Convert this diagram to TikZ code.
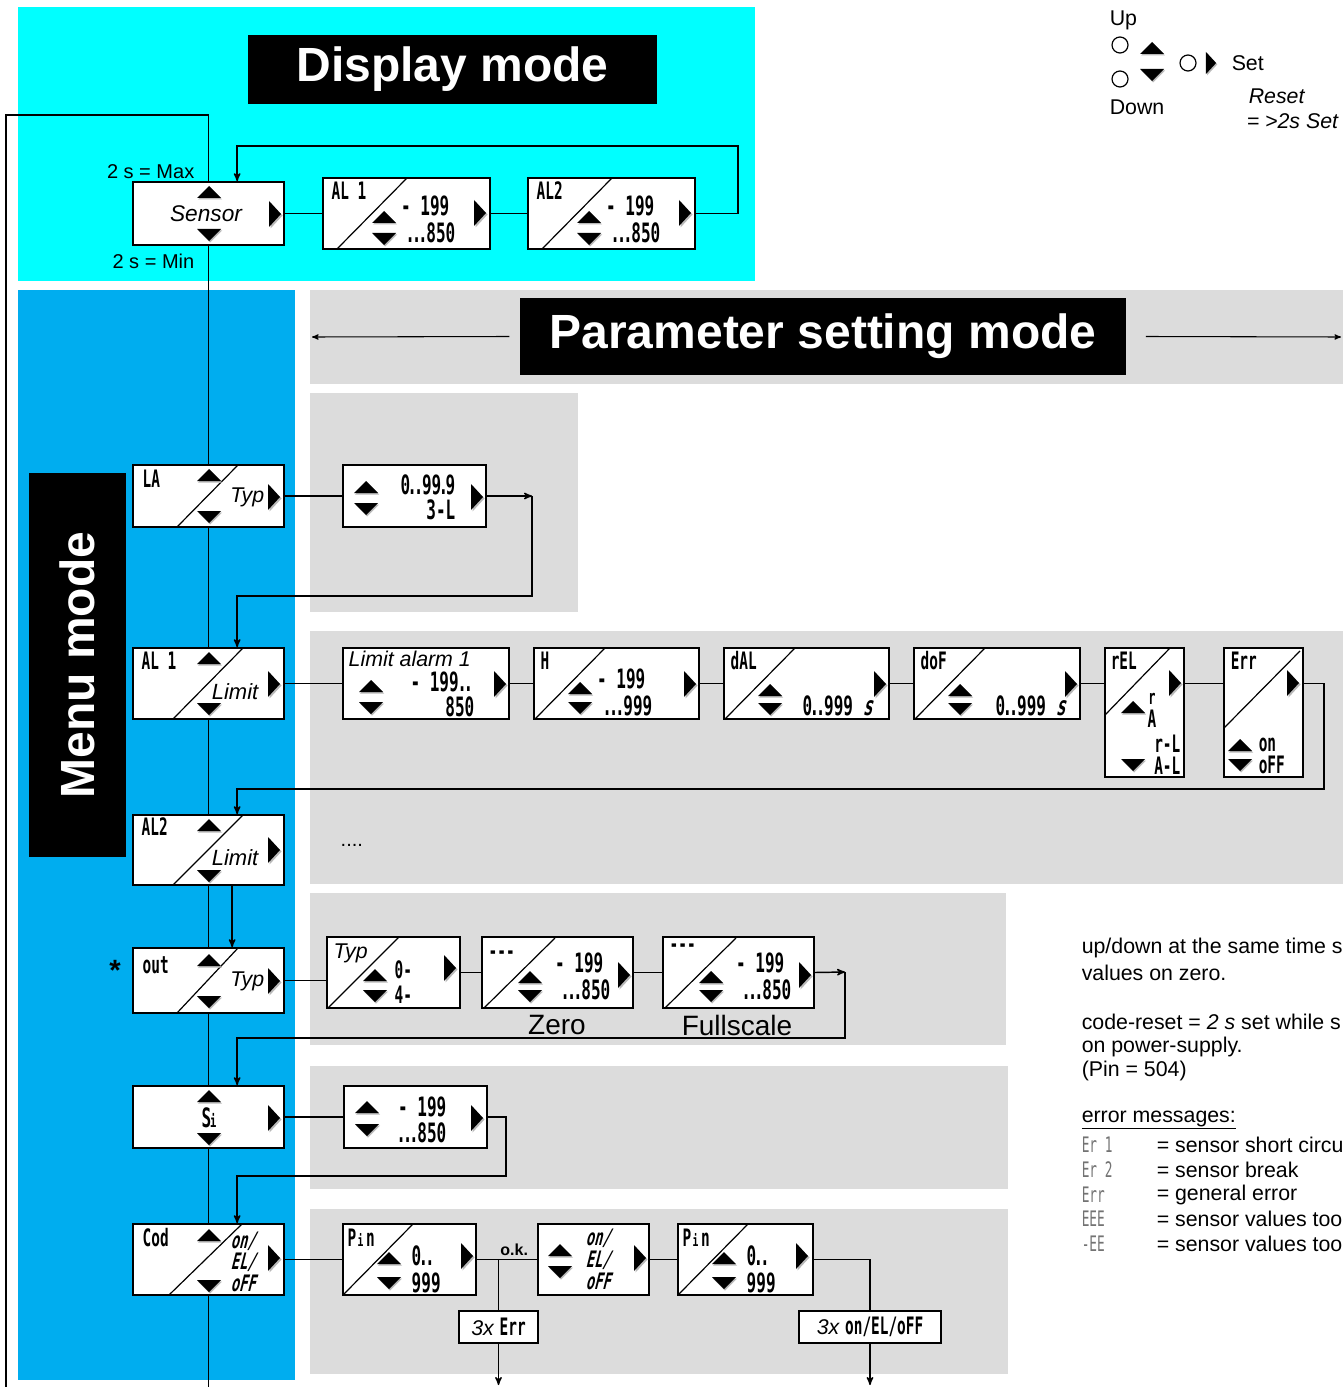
\documentclass[tikz,border=0pt]{standalone}
\usepackage{fontspec}
\setmainfont{Liberation Sans}
\newfontfamily\segfont[FakeStretch=0.6]{DejaVu Sans Mono}
\newfontfamily\segslant[FakeStretch=0.6,FakeSlant=0.25]{DejaVu Sans Mono}
\newcommand{\segdots}{.\kern-2.5pt.\kern-2.5pt.\kern-1pt}
\usetikzlibrary{positioning, calc, fit, arrows}
\definecolor{dispcyan}{RGB}{0,255,255}
\definecolor{menublue}{RGB}{0,173,239}
\definecolor{panelgray}{RGB}{220,220,220}

\begin{document}
\begin{tikzpicture}[x=0.75pt, y=-0.75pt, >=stealth', line width=1.1pt,
  disp/.style={draw, fill=white, line width=1.3pt, inner sep=0pt},
  slash/.style={line width=0.9pt},
  lbl/.style={font=\segfont\bfseries\fontsize{18}{18}\selectfont, inner sep=0pt, anchor=west},
  val/.style={font=\segfont\bfseries\fontsize{20}{20}\selectfont, inner sep=0pt},
  slval/.style={font=\segslant\bfseries\fontsize{17}{17}\selectfont, inner sep=0pt, anchor=west},
  txt/.style={font=\fontsize{15}{18}\selectfont, inner sep=0pt, anchor=west},
  note/.style={font=\fontsize{16}{18}\selectfont, inner sep=0pt, anchor=west},
  keytxt/.style={font=\fontsize{16}{18}\selectfont, inner sep=0pt, anchor=west},
  ital/.style={font=\itshape\fontsize{16}{16}\selectfont, inner sep=0pt},
  code/.style={font=\segfont\fontsize{16}{16}\selectfont, text=black!55, inner sep=0pt, anchor=west},
  title/.style={fill=black, inner sep=0pt},
  titletext/.style={text=white, inner sep=0pt, font=\bfseries\fontsize{36}{36}\selectfont},
  upkey/.pic={\fill[gray!55] (-11,7.5) -- (13,7.5) -- (1,-4.5) -- cycle;
               \fill (-12,6) -- (12,6) -- (0,-6) -- cycle;},
  downkey/.pic={\fill[gray!55] (-11,-4.5) -- (13,-4.5) -- (1,7.5) -- cycle;
                 \fill (-12,-6) -- (12,-6) -- (0,6) -- cycle;},
  setkey/.pic={\fill[gray!55] (-4.5,-11.5) -- (7.5,1.5) -- (-4.5,14.5) -- cycle;
                \fill (-6,-13) -- (6,0) -- (-6,13) -- cycle;},
  ]
  \useasboundingbox (0,0) rectangle (1343,1387);
  \clip (0,0) rectangle (1343,1387);

  % backgrounds
  \fill[dispcyan] (18,7) rectangle (755,281);
  \fill[menublue] (18,290) rectangle (295,1380);
  \fill[panelgray] (310,290) rectangle (1343,384);
  \fill[panelgray] (310,393) rectangle (578,612);
  \fill[panelgray] (310,631) rectangle (1343,884);
  \fill[panelgray] (310,893) rectangle (1006,1045);
  \fill[panelgray] (310,1066) rectangle (1008,1189);
  \fill[panelgray] (310,1209) rectangle (1008,1374);

  % titles
  \node[title, fit={(248,35) (657,104)}] (dtitle) {};
  \node[titletext] at (dtitle.center) {Display mode};
  \node[title, fit={(520,298) (1126,375)}] (ptitle) {};
  \node[titletext] at (ptitle.center) {Parameter setting mode};
  \node[title, fit={(29,473) (126,857)}] (mtitle) {};
  \node[titletext, rotate=90] at (mtitle.center) {Menu mode};
  \coordinate (pleft) at (312,337);
  \coordinate (pright) at (1341,337);
  \draw[->, line width=0.8pt] ($(ptitle.west)+(-10,0)$) -- (pleft);
  \draw[->, line width=0.8pt] ($(ptitle.east)+(19,0)$) -- (pright);

  % key legend
  \node[keytxt] at (1109,20) {Up};
  \draw[line width=0.9pt] (1120,45) circle (8);
  \draw[line width=0.9pt] (1120,79) circle (8);
  \draw[line width=0.9pt] (1188,63) circle (8);
  \pic at (1152,48) {upkey};
  \pic at (1152,75) {downkey};
  \pic[scale=0.85] at (1211,63) {setkey};
  \node[keytxt] at (1231,63) {Set};
  \node[keytxt] at (1109,107) {Down};
  \node[keytxt, font=\itshape\fontsize{16}{18}\selectfont] at (1248,96) {Reset};
  \node[keytxt, font=\itshape\fontsize{16}{18}\selectfont] at (1246,121) {= >2s Set};

  % display mode
  \node[disp, fit={(133,182) (284,245)}] (sensor) {};
  \node[font=\itshape\fontsize{17}{17}\selectfont, inner sep=0pt] at (206,214) {Sensor};
  \pic at (209,192) {upkey};
  \pic at (209,235) {downkey};
  \pic at (275,214) {setkey};
  \node[txt, anchor=east] at (195,172) {2 s = Max};
  \node[txt, anchor=east] at (195,261) {2 s = Min};

  \node[disp, fit={(323,178) (490,249)}] (al1d) {};
  \draw[slash] (337,249) -- (407,178);
  \node[lbl] at (331,191) {AL 1};
  \pic at (384,217) {upkey};
  \pic at (384,239) {downkey};
  \node[val, anchor=east] at (450,206) {- 199};
  \node[val, anchor=east] at (456,233) {\segdots850};
  \pic at (480,213) {setkey};

  \node[disp, fit={(528,178) (695,249)}] (al2d) {};
  \draw[slash] (542,249) -- (612,178);
  \node[lbl] at (536,191) {AL2};
  \pic at (589,217) {upkey};
  \pic at (589,239) {downkey};
  \node[val, anchor=east] at (655,206) {- 199};
  \node[val, anchor=east] at (661,233) {\segdots850};
  \pic at (685,213) {setkey};

  \draw (sensor.east) -- (al1d.west);
  \draw (al1d.east) -- (al2d.west);
  \draw[->] (al2d.east) -- ++(42,0) |- ($(sensor.north west)+(105,-35)$) -- ($(sensor.north west)+(105,0)$);
  \coordinate (loopend) at (6,1390);
  \draw (sensor.north) -- ++(0,-66) -| (loopend);

  % menu: LA
  \node[disp, fit={(133,465) (284,527)}] (la) {};
  \draw[slash] (177,527) -- (238,465);
  \node[lbl] at (142,479) {LA};
  \node[ital, anchor=east] at (265,497) {Typ};
  \pic at (209,475) {upkey};
  \pic at (209,517) {downkey};
  \pic at (274,497) {setkey};

  \node[disp, fit={(343,465) (486,527)}] (lap) {};
  \pic at (366,487) {upkey};
  \pic at (366,509) {downkey};
  \node[val, anchor=east] at (456,485) {0\kern-2pt.\kern-2.5pt.\kern-1pt99\kern-2pt.\kern-2pt9};
  \node[val, anchor=east] at (456,510) {3-L};
  \pic at (477,497) {setkey};

  \coordinate (lacorner) at (532,496);
  \draw (la.east) -- (lap.west);
  \draw[->] (lap.east) -- (lacorner);

  % menu: AL 1
  \node[disp, fit={(133,648) (284,719)}] (al1) {};
  \draw[slash] (173,719) -- (243,648);
  \node[lbl] at (141,661) {AL 1};
  \node[ital, anchor=east, font=\itshape\fontsize{16.5}{17}\selectfont] at (259,692) {Limit};
  \pic at (209,658) {upkey};
  \pic at (209,709) {downkey};
  \pic at (274,684) {setkey};
  \draw[->] (lacorner) |- ($(al1.north west)+(105,-51)$) -- ($(al1.north west)+(105,0)$);

  \node[disp, fit={(343,648) (509,719)}] (lim1) {};
  \node[ital, anchor=west] at (348,659) {Limit alarm 1};
  \pic at (371,686) {upkey};
  \pic at (371,708) {downkey};
  \node[val, anchor=east] at (474,682) {- 199\kern-1pt.\kern-2.5pt.};
  \node[val, anchor=east] at (475,707) {850};
  \pic at (500,684) {setkey};

  \node[disp, fit={(534,648) (699,719)}] (hyst) {};
  \draw[slash] (535,719) -- (605,648);
  \node[lbl] at (540,661) {H};
  \pic at (580,688) {upkey};
  \pic at (580,708) {downkey};
  \node[val, anchor=east] at (646,679) {- 199};
  \node[val, anchor=east] at (653,706) {\segdots999};
  \pic at (690,684) {setkey};

  \node[disp, fit={(724,648) (889,719)}] (dal) {};
  \draw[slash] (725,719) -- (795,648);
  \node[lbl] at (730,661) {dAL};
  \pic at (770,690) {upkey};
  \pic at (770,709) {downkey};
  \node[val, anchor=east] at (873,706) {0\kern-2pt.\kern-2.5pt.\kern-1pt999 {\segslant s}};
  \pic at (880,684) {setkey};

  \node[disp, fit={(914,648) (1080,719)}] (dof) {};
  \draw[slash] (915,719) -- (985,648);
  \node[lbl] at (920,661) {doF};
  \pic at (960,690) {upkey};
  \pic at (960,709) {downkey};
  \node[val, anchor=east] at (1066,706) {0\kern-2pt.\kern-2.5pt.\kern-1pt999 {\segslant s}};
  \pic at (1071,684) {setkey};

  \node[disp, fit={(1105,648) (1184,777)}] (rel) {};
  \draw[slash] (1105,715) -- (1170,648);
  \node[lbl] at (1110,661) {rEL};
  \pic at (1133,707) {upkey};
  \node[lbl, anchor=center, font=\segfont\bfseries\fontsize{15}{15}\selectfont] at (1152,699) {r};
  \node[lbl, anchor=center] at (1152,719) {A};
  \node[lbl, anchor=east] at (1181,744) {r-L};
  \pic at (1133,765) {downkey};
  \node[lbl, anchor=east] at (1181,766) {A-L};
  \pic at (1175,683) {setkey};

  \node[disp, fit={(1224,648) (1303,777)}] (err) {};
  \draw[slash] (1224,728) -- (1300,651);
  \node[lbl] at (1230,661) {Err};
  \pic at (1293,683) {setkey};
  \pic at (1240,745) {upkey};
  \node[lbl] at (1258,745) {on};
  \pic at (1240,765) {downkey};
  \node[lbl] at (1258,765) {oFF};

  \draw (al1.east) -- (lim1.west);
  \draw (lim1.east) -- (hyst.west);
  \draw (hyst.east) -- (dal.west);
  \draw (dal.east) -- (dof.west);
  \draw (dof.east) -- (dof.east -| rel.west);
  \draw (dof.east -| rel.east) -- (dof.east -| err.west);

  % menu: AL2
  \node[disp, fit={(133,815) (284,885)}] (al2) {};
  \draw[slash] (173,885) -- (243,815);
  \node[lbl] at (141,827) {AL2};
  \node[ital, anchor=east, font=\itshape\fontsize{16.5}{17}\selectfont] at (259,858) {Limit};
  \pic at (209,825) {upkey};
  \pic at (209,876) {downkey};
  \pic at (274,850) {setkey};
  \draw[->] (dof.east -| err.east) -- ++(20,0) |- ($(al2.north west)+(105,-25)$) -- ($(al2.north west)+(105,0)$);
  \node[txt] at (340,845) {....};

  % menu: out
  \node[disp, fit={(133,948) (284,1013)}] (out) {};
  \draw[slash] (177,1013) -- (238,948);
  \node[lbl] at (142,965) {out};
  \node[ital, anchor=east] at (265,981) {Typ};
  \pic at (209,960) {upkey};
  \pic at (209,1002) {downkey};
  \pic at (274,981) {setkey};
  \node[font=\bfseries\fontsize{22}{22}\selectfont, inner sep=0pt] (star) at (115,970) {*};
  \draw[->] ($(al2.south west)+(100,0)$) -- ($(out.north west)+(100,0)$);

  \node[disp, fit={(327,937) (460,1008)}] (typp) {};
  \draw[slash] (328,1008) -- (399,937);
  \node[ital, anchor=west] at (333,953) {Typ};
  \pic at (375,975) {upkey};
  \pic at (375,996) {downkey};
  \node[val, anchor=west, font=\segfont\bfseries\fontsize{18}{18}\selectfont] at (394,970) {0-};
  \node[val, anchor=west, font=\segfont\bfseries\fontsize{18}{18}\selectfont] at (394,995) {4-};
  \pic at (450,968) {setkey};

  \node[disp, fit={(482,937) (633,1008)}] (zero) {};
  \draw[slash] (484,1008) -- (555,938);
  \node[lbl] at (488,955) {---};
  \pic at (530,977) {upkey};
  \pic at (530,996) {downkey};
  \node[val, anchor=east] at (604,963) {- 199};
  \node[val, anchor=east] at (611,990) {\segdots850};
  \pic at (624,975) {setkey};
  \node[font=\fontsize{21}{21}\selectfont, inner sep=0pt] at (557,1025) {Zero};

  \node[disp, fit={(663,937) (814,1008)}] (full) {};
  \draw[slash] (665,1008) -- (736,938);
  \node[lbl] at (669,948) {---};
  \pic at (711,977) {upkey};
  \pic at (711,996) {downkey};
  \node[val, anchor=east] at (785,963) {- 199};
  \node[val, anchor=east] at (792,990) {\segdots850};
  \pic at (805,975) {setkey};
  \node[font=\fontsize{21}{21}\selectfont, inner sep=0pt] at (737,1025) {Fullscale};

  \coordinate (fullcorner) at (845,972);
  \draw (out.east) -- (out.east -| typp.west);
  \draw (typp.east) -- (zero.west);
  \draw (zero.east) -- (full.west);
  \draw[->] (full.east) -- (fullcorner);

  % menu: Si
  \node[disp, fit={(133,1086) (284,1148)}] (si) {};
  \node[val] at (209,1118) {S\kern-1pt{\fontsize{13}{13}\selectfont i}};
  \pic at (209,1096) {upkey};
  \pic at (209,1139) {downkey};
  \pic at (274,1118) {setkey};
  \draw[->] (fullcorner) |- ($(si.north west)+(105,-47)$) -- ($(si.north west)+(105,0)$);

  \node[disp, fit={(344,1086) (487,1148)}] (sip) {};
  \pic at (367,1107) {upkey};
  \pic at (367,1130) {downkey};
  \node[val, anchor=east] at (447,1107) {- 199};
  \node[val, anchor=east] at (447,1133) {\segdots850};
  \pic at (477,1118) {setkey};
  \draw (si.east) -- (sip.west);

  % menu: Cod
  \node[disp, fit={(133,1224) (284,1295)}] (cod) {};
  \draw[slash] (169,1295) -- (242,1224);
  \node[lbl] at (142,1238) {Cod};
  \pic at (209,1235) {upkey};
  \pic at (209,1286) {downkey};
  \pic at (274,1258) {setkey};
  \node[slval] at (230,1241) {on/};
  \node[slval] at (230,1262) {EL/};
  \node[slval] at (230,1283) {oFF};
  \draw[->] (sip.east) -- ++(18,0) |- ($(cod.north west)+(105,-47)$) -- ($(cod.north west)+(105,0)$);

  \node[disp, fit={(343,1224) (476,1295)}] (pin) {};
  \draw[slash] (343,1295) -- (413,1224);
  \node[lbl] at (347,1238) {P\kern1pt{\fontsize{12}{12}\selectfont i}\kern2pt n};
  \pic at (389,1258) {upkey};
  \pic at (389,1283) {downkey};
  \node[val, anchor=west] at (411,1256) {0\kern-2pt.\kern-2.5pt.};
  \node[val, anchor=west] at (411,1283) {999};
  \pic at (467,1256) {setkey};

  \node[disp, fit={(538,1224) (649,1295)}] (onel) {};
  \pic at (560,1250) {upkey};
  \pic at (560,1272) {downkey};
  \node[slval] at (585,1238) {on/};
  \node[slval] at (585,1260) {EL/};
  \node[slval] at (585,1281) {oFF};
  \pic at (640,1258) {setkey};

  \node[disp, fit={(678,1224) (813,1295)}] (pin2) {};
  \draw[slash] (678,1295) -- (748,1224);
  \node[lbl] at (682,1238) {P\kern1pt{\fontsize{12}{12}\selectfont i}\kern2pt n};
  \pic at (724,1258) {upkey};
  \pic at (724,1283) {downkey};
  \node[val, anchor=west] at (746,1256) {0\kern-2pt.\kern-2.5pt.};
  \node[val, anchor=west] at (746,1283) {999};
  \pic at (802,1256) {setkey};

  \node[disp, fit={(459,1311) (538,1343)}] (errx) {};
  \node[inner sep=0pt, font=\itshape\fontsize{16}{16}\selectfont] at (errx.center) {3x \segfont\bfseries\upshape\fontsize{18}{18}\selectfont Err};
  \node[disp, fit={(799,1311) (941,1343)}] (onx) {};
  \node[inner sep=0pt, font=\itshape\fontsize{16}{16}\selectfont] at (onx.center) {3x \segfont\bfseries\upshape\fontsize{18}{18}\selectfont on/EL/oFF};
  \coordinate (errend) at (498.5,1385);
  \coordinate (onxend) at (870,1385);

  \draw (cod.east) -- (pin.west);
  \draw (pin.east) -- node[pos=0.62, above=1pt, font=\bfseries\fontsize{12}{12}\selectfont, inner sep=1pt] {o.k.} (onel.west);
  \draw (pin.east -| errx.north) -- (errx.north);
  \draw[->] (errx.south) -- (errend);
  \draw (onel.east) -- (pin2.west);
  \draw (pin2.east) -| (onx.north);
  \draw[->] (onx.south) -- (onxend);

  % main menu column
  \coordinate (mainend) at (208.5,1390);
  \draw (sensor.south) -- (la.north);
  \draw (la.south) -- (al1.north);
  \draw (al1.south) -- (al2.north);
  \draw (al2.south) -- (out.north);
  \draw (out.south) -- (si.north);
  \draw (si.south) -- (cod.north);
  \draw (cod.south) -- (mainend);

  % notes
  \node[note] at (1081,948) {up/down at the same time s};
  \node[note] at (1081,973) {values on zero.};
  \node[note] at (1081,1022) {code-reset = \textit{2 s} set while s};
  \node[note] at (1081,1047) {on power-supply.};
  \node[note] at (1081,1071) {(Pin = 504)};
  \node[note] at (1081,1120) {\underline{error messages:}};
  \node[code] at (1081,1145) {Er  1};
  \node[code] at (1081,1170) {Er  2};
  \node[code] at (1081,1195) {Err};
  \node[code] at (1081,1219) {EEE};
  \node[code] at (1081,1244) {-EE};
  \node[note] at (1156,1145) {= sensor short circu};
  \node[note] at (1156,1170) {= sensor break};
  \node[note] at (1156,1195) {= general error};
  \node[note] at (1156,1219) {= sensor values too};
  \node[note] at (1156,1244) {= sensor values too};
\end{tikzpicture}
\end{document}
